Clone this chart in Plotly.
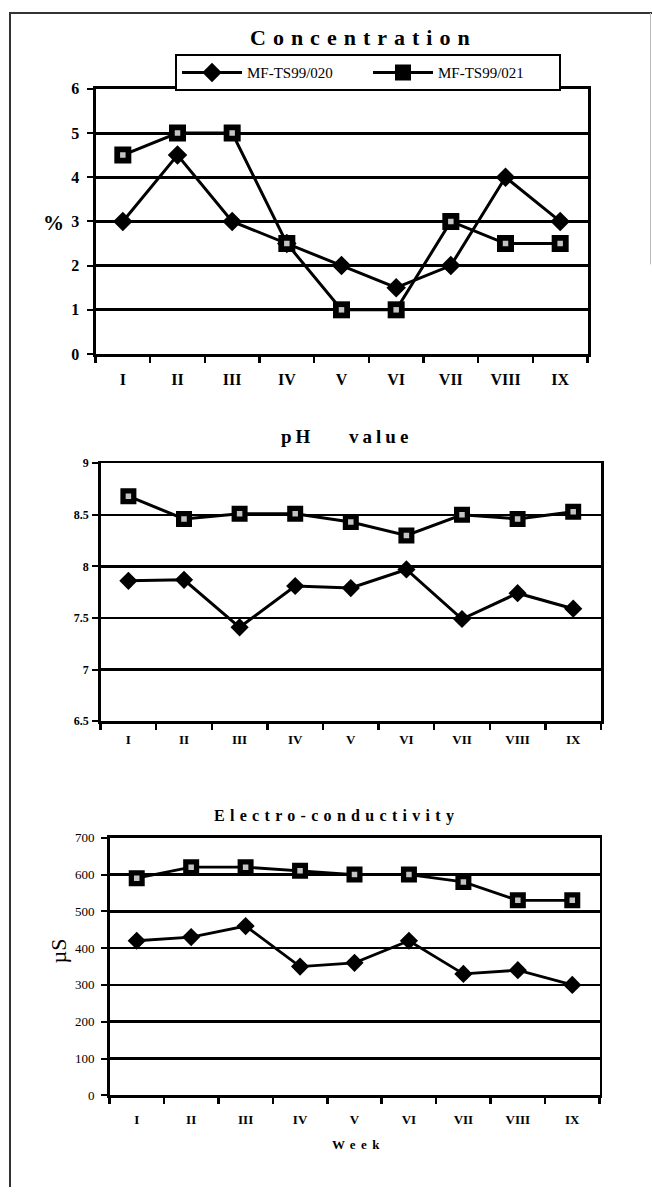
import plotly.graph_objects as go

# ---------------- data ----------------
weeks = ["I", "II", "III", "IV", "V", "VI", "VII", "VIII", "IX"]
series_names = ["MF-TS99/020", "MF-TS99/021"]

conc_020 = [3, 4.5, 3, 2.5, 2, 1.5, 2, 4, 3]
conc_021 = [4.5, 5, 5, 2.5, 1, 1, 3, 2.5, 2.5]

ph_020 = [7.86, 7.87, 7.41, 7.81, 7.79, 7.97, 7.49, 7.74, 7.59]
ph_021 = [8.68, 8.46, 8.51, 8.51, 8.43, 8.30, 8.50, 8.46, 8.53]

ec_020 = [420, 430, 460, 350, 360, 420, 330, 340, 300]
ec_021 = [590, 620, 620, 610, 600, 600, 580, 530, 530]

conc_ticks = [0, 1, 2, 3, 4, 5, 6]
ph_ticks = [6.5, 7, 7.5, 8, 8.5, 9]
ph_ticklabels = ["6.5", "7", "7.5", "8", "8.5", "9"]
ec_ticks = [0, 100, 200, 300, 400, 500, 600, 700]

titles = ["Concentration", "pH value", "Electro-conductivity"]
x_title = "Week"

# ---------------- geometry helpers ----------------
W, H = 652, 1196
SERIF = "Liberation Serif, Times New Roman, serif"


def px(x):
    return x / W


def py(y):
    return 1 - y / H


def spaced(text, ls, ws=None):
    style = "letter-spacing:%spx" % ls
    if ws is not None:
        style += ";word-spacing:%spx" % ws
    return '<span style="%s">%s</span>' % (style, text)


fig = go.Figure()

charts = [
    dict(sfx="", ys=(conc_020, conc_021), lw=3, dsize=15, ssize=17, legend=True),
    dict(sfx="2", ys=(ph_020, ph_021), lw=3, dsize=14, ssize=16, legend=False),
    dict(sfx="3", ys=(ec_020, ec_021), lw=2.8, dsize=14, ssize=16, legend=False),
]

for c in charts:
    xa = "x" + c["sfx"]
    ya = "y" + c["sfx"]
    y020, y021 = c["ys"]
    fig.add_trace(go.Scatter(
        x=weeks, y=y020, xaxis=xa, yaxis=ya, mode="lines+markers",
        name=series_names[0], showlegend=c["legend"],
        line=dict(color="black", width=c["lw"]),
        marker=dict(symbol="diamond", size=c["dsize"], color="black"),
        hoverinfo="skip"))
    fig.add_trace(go.Scatter(
        x=weeks, y=y021, xaxis=xa, yaxis=ya, mode="lines+markers",
        name=series_names[1], showlegend=c["legend"],
        line=dict(color="black", width=c["lw"]),
        marker=dict(symbol="square", size=c["ssize"], color="black"),
        hoverinfo="skip"))
    # light dotted centre of the square markers
    fig.add_trace(go.Scatter(
        x=weeks, y=y021, xaxis=xa, yaxis=ya, mode="markers",
        showlegend=False,
        marker=dict(symbol="square", size=5.5, color="#c4c4c4",
                    line=dict(width=0)),
        hoverinfo="skip"))

xcommon = dict(type="category", categoryorder="array", categoryarray=weeks,
               range=[-0.5, 8.5], tickson="boundaries", ticks="outside",
               ticklen=6, tickwidth=2.5, tickcolor="black", showgrid=False,
               zeroline=False, showline=True, linecolor="black", mirror=True,
               fixedrange=True)
ycommon = dict(ticks="outside", ticklen=6, tickwidth=2, tickcolor="black",
               showgrid=True, gridcolor="black", zeroline=False,
               showline=True, linecolor="black", mirror=True, fixedrange=True)

fig.update_layout(
    width=W, height=H,
    margin=dict(l=0, r=0, t=0, b=0),
    paper_bgcolor="white", plot_bgcolor="white",
    font=dict(family=SERIF, color="black"),
    # chart 1
    xaxis=dict(xcommon, domain=[px(95.5), px(587.5)], anchor="y",
               linewidth=3, ticklabelstandoff=9,
               tickfont=dict(family=SERIF, size=16, weight="bold")),
    yaxis=dict(ycommon, domain=[py(351), py(82)], anchor="x",
               range=[0, 6], tickvals=conc_ticks, gridwidth=3, linewidth=3,
               ticklabelstandoff=4,
               tickfont=dict(family=SERIF, size=16, weight="bold")),
    # chart 2
    xaxis2=dict(xcommon, domain=[px(100.6), px(601)], anchor="y2",
                linewidth=2.5, ticklabelstandoff=5,
                tickfont=dict(family=SERIF, size=13, weight="bold")),
    yaxis2=dict(ycommon, domain=[py(723.5), py(461.7)], anchor="x2",
                range=[6.5, 9], tickvals=ph_ticks, ticktext=ph_ticklabels,
                gridwidth=2.5, linewidth=2.5, ticklabelstandoff=1,
                tickfont=dict(family=SERIF, size=12, weight="bold")),
    # chart 3
    xaxis3=dict(xcommon, domain=[px(109.5), px(599.5)], anchor="y3",
                linewidth=2.5, ticklabelstandoff=11,
                tickfont=dict(family=SERIF, size=13, weight="bold")),
    yaxis3=dict(ycommon, domain=[py(1103), py(841.7)], anchor="x3",
                range=[0, 700], tickvals=ec_ticks, gridwidth=2.5,
                linewidth=2.5, ticklabelstandoff=4,
                tickfont=dict(family=SERIF, size=13)),
    legend=dict(orientation="h", x=px(175), y=py(47), xanchor="left",
                yanchor="top", bgcolor="white", bordercolor="black",
                borderwidth=2, itemwidth=60, entrywidth=116,
                entrywidthmode="pixels", traceorder="normal",
                font=dict(family=SERIF, size=15, color="black")),
)

ann = [
    dict(text=spaced(titles[0], 7), x=px(363), y=py(30),
         font=dict(size=22, weight="bold")),
    dict(text=spaced(titles[1], 4, 26), x=px(346), y=py(435),
         font=dict(size=19, weight="bold")),
    dict(text=spaced(titles[2], 5.3), x=px(336), y=py(820),
         font=dict(size=16, weight="bold")),
    dict(text=spaced(x_title, 5.5), x=px(358), y=py(1153),
         font=dict(size=13, weight="bold")),
    dict(text="%", x=px(54), y=py(218), font=dict(size=21, weight="bold")),
    dict(text="µS", x=px(58), y=py(957), font=dict(size=22), textangle=-90),
]
for a in ann:
    a["font"]["family"] = SERIF
    a["font"]["color"] = "black"
    fig.add_annotation(xref="paper", yref="paper", showarrow=False,
                       xanchor="center", yanchor="middle", **a)

# page frame (scan border): top, left, faint right edge
fig.add_shape(type="line", xref="paper", yref="paper",
              x0=px(9), x1=1, y0=py(5), y1=py(5),
              line=dict(color="#333333", width=2))
fig.add_shape(type="line", xref="paper", yref="paper",
              x0=px(10), x1=px(10), y0=py(5), y1=0,
              line=dict(color="#333333", width=2))
fig.add_shape(type="line", xref="paper", yref="paper",
              x0=px(650.5), x1=px(650.5), y0=py(5), y1=py(260),
              line=dict(color="#bbbbbb", width=1))

fig.write_html("out.html", config={"staticPlot": True})
